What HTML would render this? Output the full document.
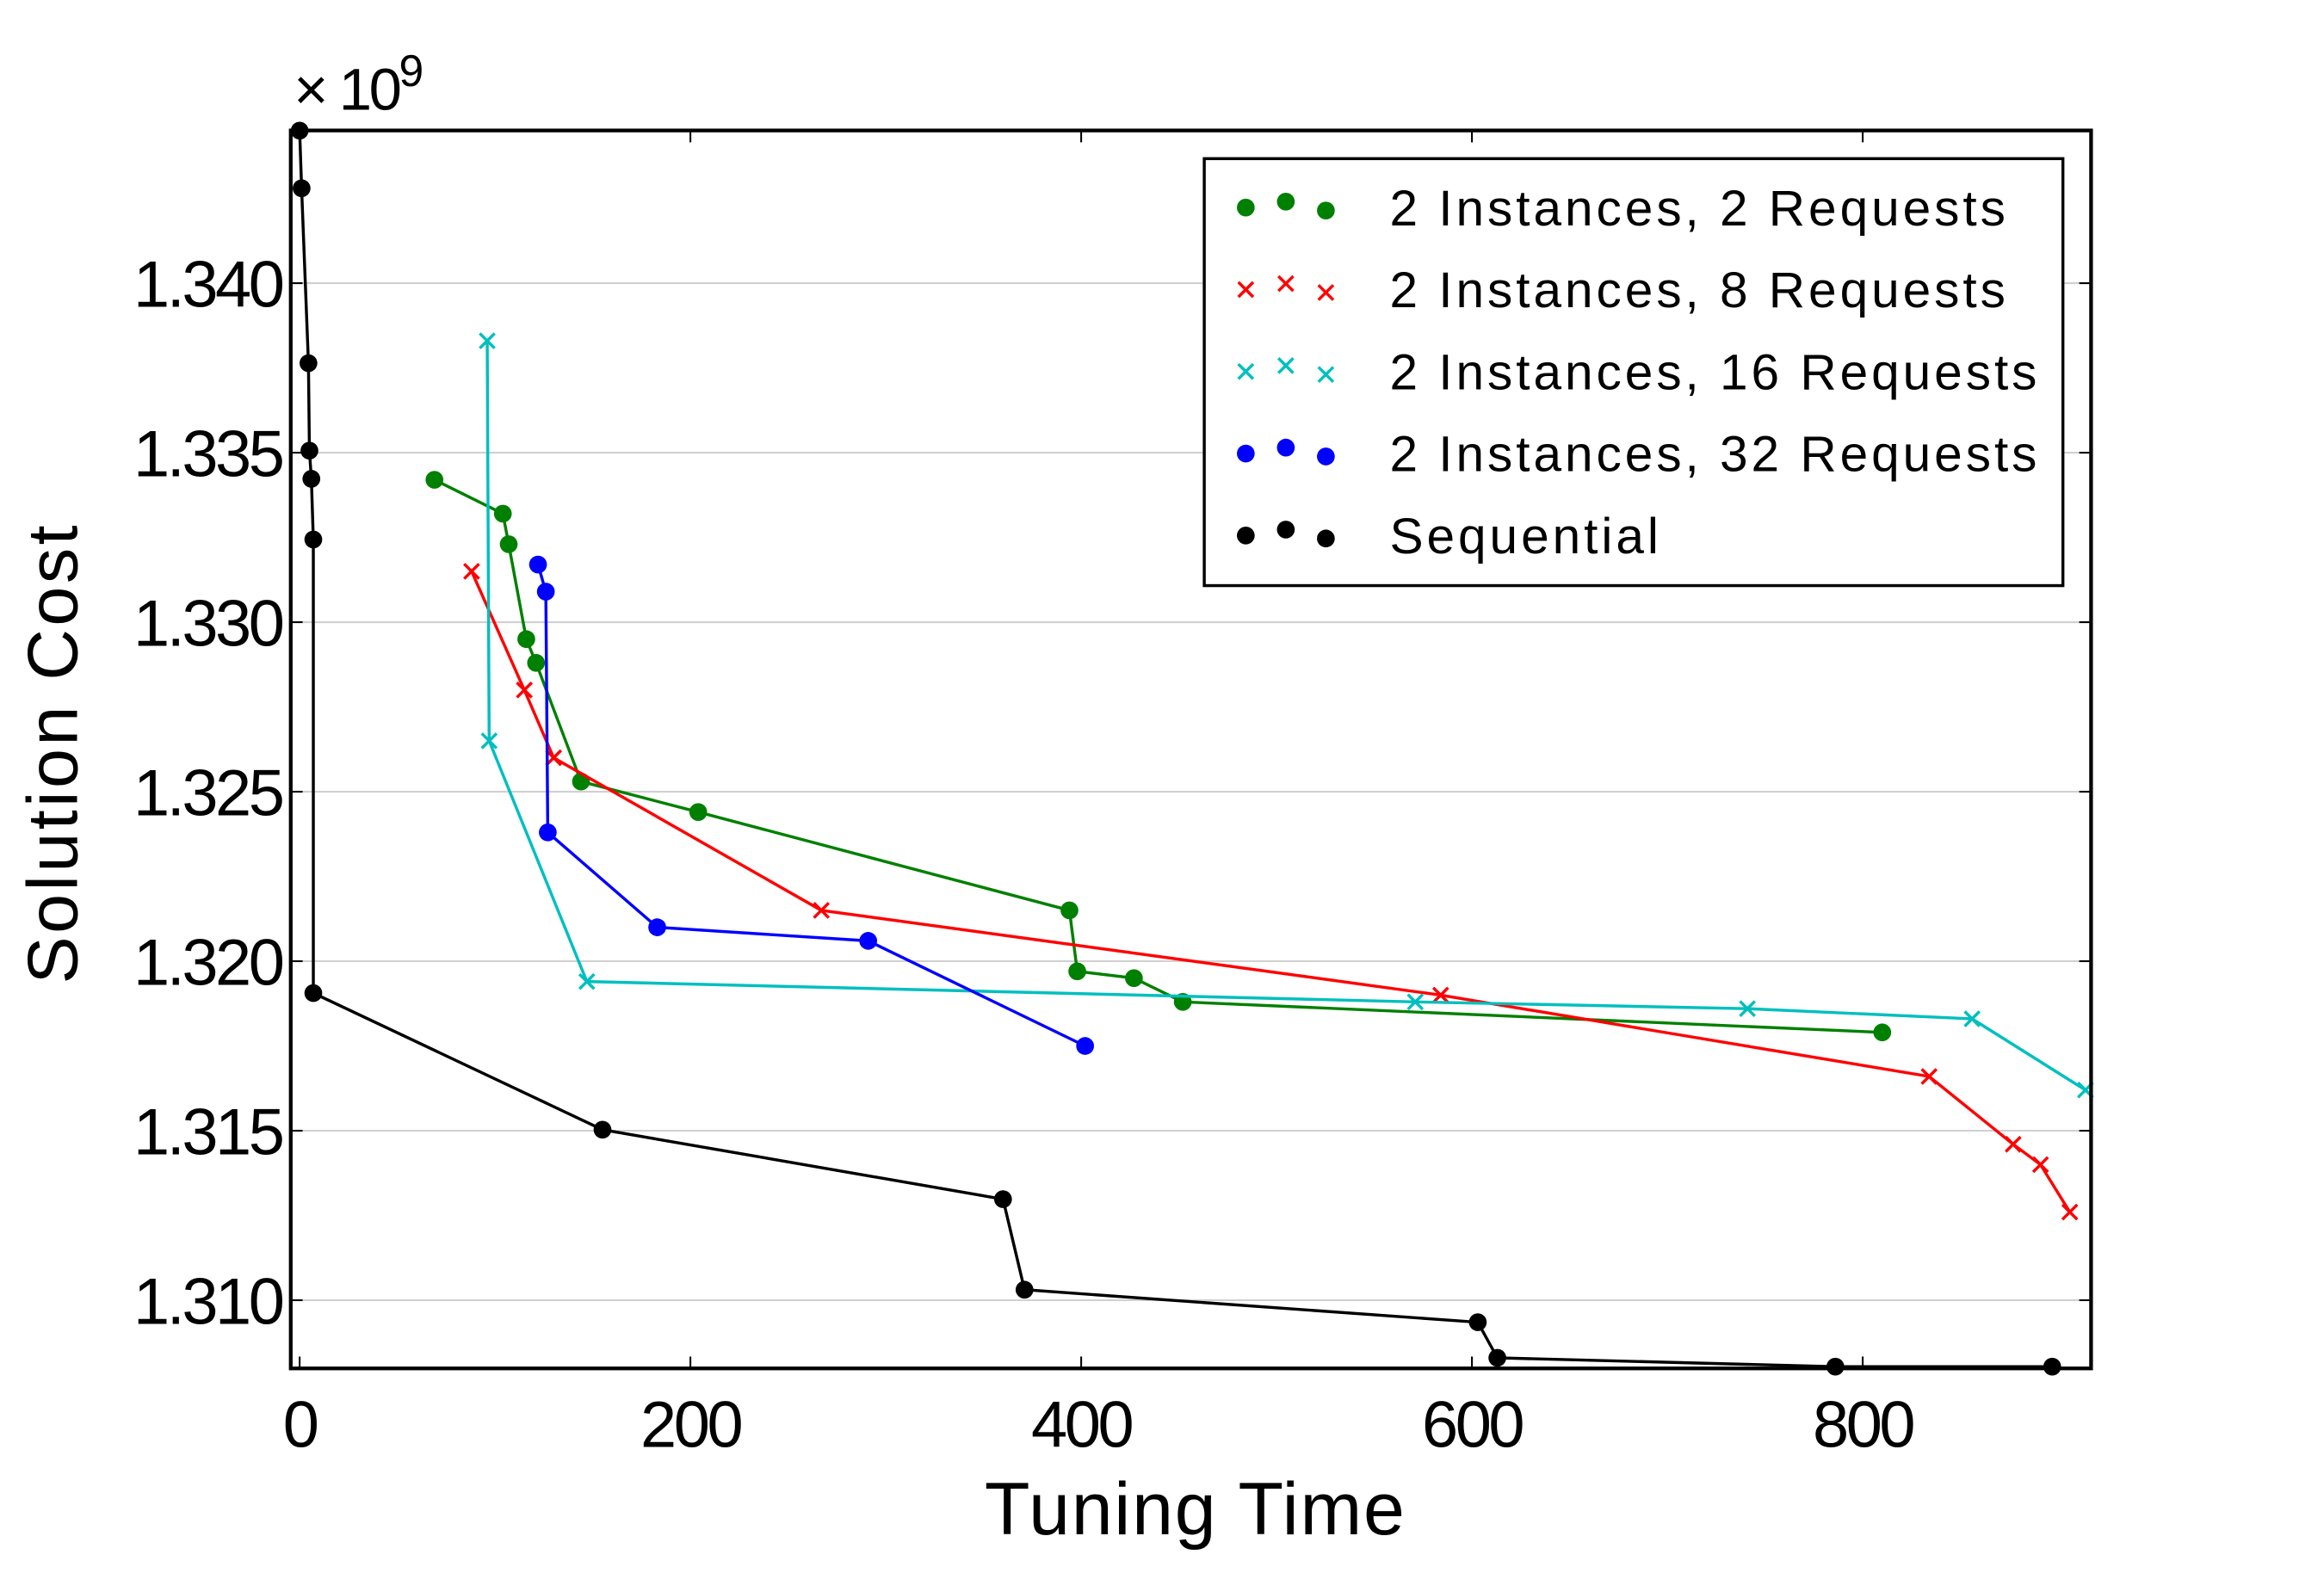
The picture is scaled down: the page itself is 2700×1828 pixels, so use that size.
<!DOCTYPE html>
<html><head><meta charset="utf-8"><style>html,body{margin:0;padding:0;background:#fff}svg{display:block}</style></head>
<body>
<svg id="chart" width="2700" height="1828" viewBox="0 0 1567 1061" xmlns="http://www.w3.org/2000/svg" font-family="Liberation Sans, Arial, sans-serif"></svg>
<script>
const xTicks=[0,200,400,600,800];
const yTicks=[1.310,1.315,1.320,1.325,1.330,1.335,1.340];
const yTickLabels=["1.310","1.315","1.320","1.325","1.330","1.335","1.340"];
const seqX=[0,1,4.5,5,6,7,7,155,360,371,603,613,786,897];
const seqY=[1.3445,1.3428,1.33764,1.33506,1.33423,1.33244,1.31906,1.31503,1.31298,1.31031,1.30935,1.3083,1.30804,1.30804];
const g2X=[69,104,107,116,121,144,204,394,398,427,452,810];
const g2Y=[1.3342,1.3332,1.3323,1.3295,1.3288,1.3253,1.3244,1.3215,1.3197,1.3195,1.3188,1.3179];
const r8X=[88,115,130,267,584,834,877,891,906];
const r8Y=[1.3315,1.3280,1.3260,1.3215,1.3190,1.3166,1.3146,1.3140,1.3126];
const c16X=[96,97,147,571,741,856,914];
const c16Y=[1.3383,1.3265,1.3194,1.3188,1.3186,1.3183,1.3162];
const b32X=[122,126,127,183,291,402];
const b32Y=[1.3317,1.3309,1.3238,1.3210,1.3206,1.3175];

const L=196,R=1410,T=88,B=923;
const sx=v=>202+v*(1256-202)/800;
const sy=v=>191+(1.340-v)*(877-191)/0.030;
const NS="http://www.w3.org/2000/svg";
const svg=document.getElementById('chart');
function mk(tag,attrs,parent){const e=document.createElementNS(NS,tag);for(const k in attrs)e.setAttribute(k,attrs[k]);(parent||svg).appendChild(e);return e;}

yTicks.forEach((v,i)=>{
  const y=sy(v);
  const g=mk('line',{x1:L,x2:R,y1:y,y2:y,stroke:'#d0d0d0','stroke-width':1.2});
  
  
  const t1=mk('line',{x1:L,x2:L+8,y1:y,y2:y,stroke:'#000','stroke-width':1.2});
  
  
  const t2=mk('line',{x1:R-8,x2:R,y1:y,y2:y,stroke:'#000','stroke-width':1.2});
  
  
  const lb=mk('text',{x:190,y:y+16,'text-anchor':'end','font-size':44,'letter-spacing':-2});
  lb.textContent=yTickLabels[i];
  
  
});
xTicks.forEach(v=>{
  const x=sx(v);
  const t1=mk('line',{x1:x,x2:x,y1:B-8,y2:B,stroke:'#000','stroke-width':1.2});
  
  
  const t2=mk('line',{x1:x,x2:x,y1:T,y2:T+8,stroke:'#000','stroke-width':1.2});
  
  
  const lb=mk('text',{x:x,y:976,'text-anchor':'middle','font-size':44,'letter-spacing':-2});
  lb.textContent=String(v);
  
  
});

function series(xs,ys,color,marker,name){
  const g=mk('g',{});
  
  
  const pts=xs.map((x,i)=>sx(x)+','+sy(ys[i])).join(' ');
  const pl=mk('polyline',{points:pts,fill:'none',stroke:color,'stroke-width':2},g);
  
  
  xs.forEach((x,i)=>{
    const px=sx(x),py=sy(ys[i]);
    if(marker==='o'){
      const c=mk('circle',{cx:px,cy:py,r:6,fill:color},g);
      
      
    }else{
      const p=mk('path',{d:`M${px-5},${py-5}L${px+5},${py+5}M${px-5},${py+5}L${px+5},${py-5}`,stroke:color,'stroke-width':2},g);
      
      
    }
  });
}
series(seqX,seqY,'#000','o','series-sequential');
series(g2X,g2Y,'#008000','o','series-2-requests');
series(r8X,r8Y,'#ff0000','x','series-8-requests');
series(c16X,c16Y,'#00bfbf','x','series-16-requests');
series(b32X,b32Y,'#0000ff','o','series-32-requests');

const frame=mk('rect',{x:L,y:T,width:R-L,height:B-T,fill:'none',stroke:'#000','stroke-width':2.5});



const lg=mk('g',{});


mk('rect',{x:812,y:107,width:579,height:288,fill:'#fff',stroke:'#000','stroke-width':2},lg);
const legNames=["2 Instances, 2 Requests","2 Instances, 8 Requests","2 Instances, 16 Requests","2 Instances, 32 Requests","Sequential"];
const legColors=['#008000','#ff0000','#00bfbf','#0000ff','#000'];
const legMarks=['o','x','x','o','o'];
legNames.forEach((n,i)=>{
  const y=140+i*55.3;
  const e=mk('g',{},lg);
  
  
  [[840,0],[867,-4],[894,2]].forEach(([x,dy])=>{
    if(legMarks[i]==='o') mk('circle',{cx:x,cy:y+dy,r:6,fill:legColors[i]},e);
    else mk('path',{d:`M${x-5},${y+dy-5}L${x+5},${y+dy+5}M${x-5},${y+dy+5}L${x+5},${y+dy-5}`,stroke:legColors[i],'stroke-width':2},e);
  });
  const t=mk('text',{x:937,y:y+12,'font-size':34,'letter-spacing':2.3},e);
  t.textContent=n;
});

const xt=mk('text',{x:806,y:1035,'text-anchor':'middle','font-size':50,'letter-spacing':1});
xt.textContent='Tuning Time';


const yt=mk('text',{x:0,y:0,'text-anchor':'middle','font-size':48,'letter-spacing':2,transform:'translate(52,508) rotate(-90)'});
yt.textContent='Solution Cost';


const mult=mk('text',{x:198,y:74,'font-size':40,'letter-spacing':-2});
mult.innerHTML='× 10<tspan dy="-16" font-size="30">9</tspan>';


</script>
</body></html>
